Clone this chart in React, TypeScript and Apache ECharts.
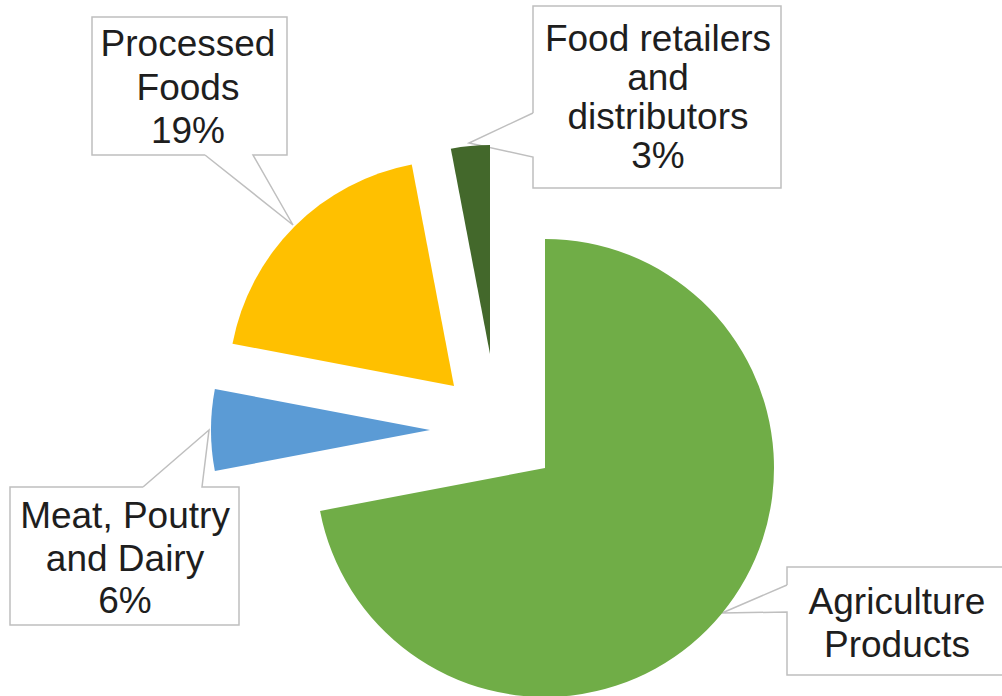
import React, { useEffect, useRef } from "react";
import * as echarts from "echarts";

// ---- data ----
const categories = [
  "Agriculture Products",
  "Meat, Poutry and Dairy",
  "Processed Foods",
  "Food retailers and distributors",
];
const shares = [72, 6, 19, 3];
const labelTexts = [
  "Agriculture\nProducts",
  "Meat, Poutry\nand Dairy",
  "Processed\nFoods",
  "Food retailers\nand\ndistributors",
];
const showPercent = [false, true, true, true];

// ---- styles / layout ----
const sliceColors = ["#70AD47", "#5B9BD5", "#FFC000", "#43682B"];

type Callout = {
  center: [number, number];
  radius: number;
  box: [number, number, number, number];
  side: "top" | "bottom" | "left" | "right";
  base: [number, number];
  tip: [number, number];
  text: [number, number];
  lineHeight: number;
};

const layout: Callout[] = [
  { center: [545, 468], radius: 229, box: [787, 567, 1008, 675], side: "left", base: [585, 612], tip: [722, 613], text: [897, 623], lineHeight: 43.5 },
  { center: [430, 430], radius: 219, box: [10, 487, 239, 625], side: "top", base: [143, 202], tip: [209, 430], text: [125, 558], lineHeight: 42.5 },
  { center: [454, 386], radius: 225.5, box: [92, 17, 287, 155], side: "bottom", base: [205, 253], tip: [293, 225], text: [188, 87], lineHeight: 43.3 },
  { center: [490, 354], radius: 209, box: [533, 6, 781, 188], side: "left", base: [113, 157], tip: [469, 143], text: [658, 97], lineHeight: 39 },
];

function calloutOutline(c: Callout): number[][] {
  const [x0, y0, x1, y1] = c.box;
  const [b0, b1] = c.base;
  const t = c.tip;
  switch (c.side) {
    case "left":
      return [[x0, b0], t, [x0, b1], [x0, y1], [x1, y1], [x1, y0], [x0, y0], [x0, b0]];
    case "right":
      return [[x1, b0], t, [x1, b1], [x1, y1], [x0, y1], [x0, y0], [x1, y0], [x1, b0]];
    case "bottom":
      return [[b0, y1], t, [b1, y1], [x1, y1], [x1, y0], [x0, y0], [x0, y1], [b0, y1]];
    case "top":
    default:
      return [[b0, y0], t, [b1, y0], [x1, y0], [x1, y1], [x0, y1], [x0, y0], [b0, y0]];
  }
}

export default function App() {
  const ref = useRef<HTMLDivElement>(null);

  useEffect(() => {
    if (!ref.current) return;
    const chart = echarts.init(ref.current, undefined, { renderer: "svg" });

    const series = layout.map((c, i) => ({
      type: "pie",
      name: categories[i],
      center: c.center,
      radius: [0, c.radius],
      startAngle: 90,
      clockwise: true,
      avoidLabelOverlap: false,
      silent: true,
      label: { show: false },
      labelLine: { show: false },
      emphasis: { disabled: true },
      itemStyle: { borderWidth: 0 },
      data: categories.map((name, j) =>
        j === i
          ? {
              name,
              value: shares[j],
              itemStyle: { color: sliceColors[j] },
              label: {
                show: true,
                position: "outside",
                formatter: (p: any) =>
                  labelTexts[p.dataIndex] +
                  (showPercent[p.dataIndex] ? "\n" + Math.round(p.percent) + "%" : ""),
                fontFamily: "'Liberation Sans', Arial, sans-serif",
                fontSize: 37,
                color: "#1e1e1e",
                lineHeight: c.lineHeight,
                align: "center",
              },
              labelLine: {
                show: true,
                smooth: false,
                lineStyle: { color: "#BFBFBF", width: 1.5 },
              },
            }
          : {
              name,
              value: shares[j],
              itemStyle: { color: "rgba(0,0,0,0)" },
              label: { show: false },
              labelLine: { show: false },
            }
      ),
      labelLayout: (params: any) =>
        params.dataIndex === i
          ? {
              x: c.text[0],
              y: c.text[1],
              align: "center",
              verticalAlign: "middle",
              labelLinePoints: calloutOutline(c),
            }
          : {},
    }));

    chart.setOption({
      animation: false,
      backgroundColor: "#ffffff",
      series,
    } as any);

    return () => chart.dispose();
  }, []);

  return (
    <div
      ref={ref}
      style={{ position: "fixed", left: 0, top: 0, width: 1002, height: 696 }}
    />
  );
}
